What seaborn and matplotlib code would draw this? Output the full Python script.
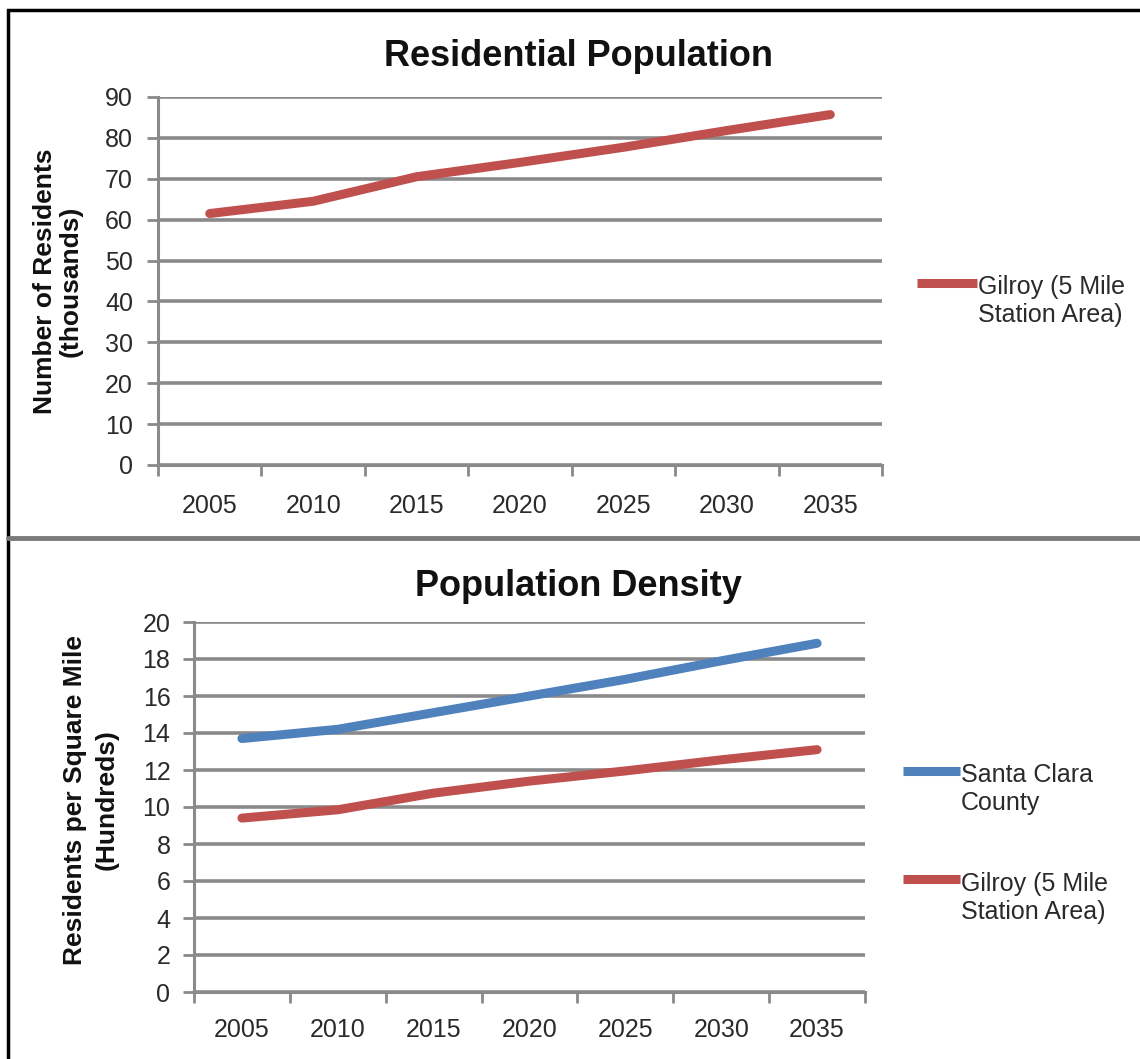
import matplotlib
matplotlib.use("Agg")
import matplotlib.pyplot as plt
import seaborn as sns
import pandas as pd
import numpy as np
from matplotlib.patches import Rectangle
from matplotlib.lines import Line2D

years = ["2005", "2010", "2015", "2020", "2025", "2030", "2035"]
gilroy_residents = [61.5, 64.5, 70.5, 74.0, 77.7, 81.8, 85.7]
santa_clara_density = [13.7, 14.2, 15.1, 16.0, 16.9, 17.9, 18.85]
gilroy_density = [9.4, 9.85, 10.75, 11.4, 11.95, 12.55, 13.1]

top_title = "Residential Population"
bottom_title = "Population Density"
top_ylabel = "Number of Residents\n(thousands)"
bottom_ylabel = "Residents per Square Mile\n(Hundreds)"
label_gilroy = "Gilroy (5 Mile\nStation Area)"
label_sc = "Santa Clara\nCounty"

RED = "#C0504D"
BLUE = "#4F81BD"
GRID = "#8a8a8a"
TXT = "#2a2a2a"
LW = 6.5

sns.set_theme(style="white")
plt.rcParams["font.family"] = ["Liberation Sans", "DejaVu Sans"]

W, H = 1140, 1059
fig = plt.figure(figsize=(W / 100, H / 100), dpi=100)
fig.patch.set_facecolor("white")


def box(l, t, r, b):
    return [l / W, 1 - b / H, (r - l) / W, (b - t) / H]


def fx(x):
    return x / W


def fy(y):
    return 1 - y / H


ax1 = fig.add_axes(box(158, 97, 882, 465))
ax2 = fig.add_axes(box(194, 622, 865, 992))

df1 = pd.DataFrame({"year": years, "value": gilroy_residents, "series": label_gilroy})
df2 = pd.concat([
    pd.DataFrame({"year": years, "value": santa_clara_density, "series": label_sc}),
    pd.DataFrame({"year": years, "value": gilroy_density, "series": label_gilroy}),
])

sns.lineplot(data=df1, x="year", y="value", hue="series", palette=[RED],
             linewidth=LW, ax=ax1, sort=False, legend=False, zorder=5,
             solid_capstyle="round")
sns.lineplot(data=df2, x="year", y="value", hue="series", palette=[BLUE, RED],
             linewidth=LW, ax=ax2, sort=False, legend=False, zorder=5,
             solid_capstyle="round")


def style(ax, ymax, step, xpad, ypad):
    ax.set_xlim(-0.5, len(years) - 0.5)
    ax.set_ylim(0, ymax)
    ax.set_yticks(np.arange(0, ymax + 0.01, step))
    ax.set_xticks(range(len(years)))
    ax.set_xticklabels(years)
    ax.set_xticks(np.arange(-0.5, len(years), 1.0), minor=True)
    ax.tick_params(axis="x", which="major", length=0, pad=xpad, labelsize=18,
                   labelcolor=TXT)
    ax.tick_params(axis="x", which="minor", length=8, width=2, color=GRID,
                   direction="out", bottom=True)
    ax.tick_params(axis="y", which="major", length=8, width=2, color=GRID,
                   direction="out", left=True, pad=ypad, labelsize=18,
                   labelcolor=TXT)
    ax.yaxis.grid(True, color=GRID, linewidth=2.6)
    ax.xaxis.grid(False)
    ax.set_axisbelow(True)
    for s in ["top", "right"]:
        ax.spines[s].set_visible(False)
    for s in ["left", "bottom"]:
        ax.spines[s].set_color(GRID)
        ax.spines[s].set_linewidth(2.2)
    ax.set_xlabel("")
    ax.set_ylabel("")
    ax.set_facecolor("white")


style(ax1, 90, 10, 21, 10)
style(ax2, 20, 2, 19, 9)

# titles
fig.text(fx(579), fy(57), top_title, ha="center", va="center",
         fontsize=26, fontweight="bold", color="#111111")
fig.text(fx(578), fy(587), bottom_title, ha="center", va="center",
         fontsize=26, fontweight="bold", color="#111111")

# y-axis labels
fig.text(fx(58), fy(281), top_ylabel, rotation=90, ha="center", va="center",
         fontsize=19, fontweight="bold", color="#111111", linespacing=1.1,
         multialignment="center")
fig.text(fx(91), fy(800), bottom_ylabel, rotation=90, ha="center", va="center",
         fontsize=19, fontweight="bold", color="#111111", linespacing=1.4,
         multialignment="center")


# legends (handle aligned with first text line, as in the original)
def legend_entry(x0, x1, y_handle, y_text, color, label):
    fig.add_artist(Line2D([fx(x0), fx(x1)], [fy(y_handle), fy(y_handle)],
                          transform=fig.transFigure, color=color, linewidth=LW,
                          solid_capstyle="butt"))
    fig.text(fx(x1 + 1), fy(y_text), label, ha="left", va="center",
             fontsize=18, color=TXT, linespacing=1.2)


legend_entry(917, 977, 283, 301, RED, label_gilroy)
legend_entry(903, 960, 771, 789, BLUE, label_sc)
legend_entry(903, 960, 879, 898, RED, label_gilroy)

# divider and outer border
fig.add_artist(Line2D([fx(8), 1.0], [fy(538), fy(538)],
                      transform=fig.transFigure, color="#7a7a7a", linewidth=3.5))
fig.add_artist(Rectangle((fx(8), -0.05), 1.2, 1.05 - 10 / H,
                         transform=fig.transFigure, fill=False,
                         edgecolor="black", linewidth=2.5))

fig.savefig("out.png", dpi=100, facecolor="white")
